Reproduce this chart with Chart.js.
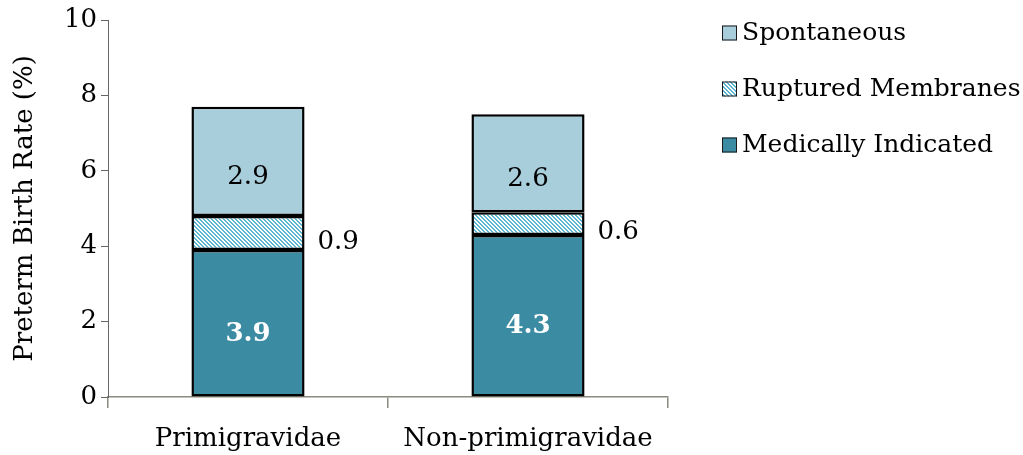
<!DOCTYPE html>
<html>
<head>
<meta charset="utf-8">
<script src="https://cdn.jsdelivr.net/npm/chart.js@4.4.1/dist/chart.umd.min.js"></script>
<style>
  html, body { margin: 0; padding: 0; background: #ffffff; }
  #wrap { width: 1023px; height: 455px; position: relative; }
</style>
</head>
<body>
<div id="wrap"><canvas id="c" width="1023" height="455"></canvas></div>
<script>
// Preterm birth rate (%) by cause, stacked per group
const categories = ['Primigravidae', 'Non-primigravidae'];
const medicallyIndicated = [3.9, 4.3];
const rupturedMembranes = [0.9, 0.6];
const spontaneous = [2.9, 2.6];
const yTicks = [0, 2, 4, 6, 8, 10];

const FONT = 'DejaVu Serif';
const TEAL = '#3B8BA3';
const LIGHT = '#A8CEDC';
const STRIPE = '#5DB6CF';

// diagonal hatch fill for the ruptured-membranes segment
function makeHatch() {
  const t = document.createElement('canvas');
  t.width = 4; t.height = 4;
  const g = t.getContext('2d');
  g.fillStyle = '#ffffff';
  g.fillRect(0, 0, 4, 4);
  g.fillStyle = STRIPE;
  for (let y = 0; y < 4; y++) {
    for (let x = 0; x < 4; x++) {
      const d = ((x - y) % 4 + 4) % 4;
      if (d === 0 || d === 1) g.fillRect(x, y, 1, 1);
    }
  }
  return g.createPattern(t, 'repeat');
}
const hatch = makeHatch();

// value labels on the segments
const segmentLabels = {
  id: 'segmentLabels',
  afterDatasetsDraw(chart) {
    const ctx = chart.ctx;
    ctx.save();
    chart.data.datasets.forEach((ds, di) => {
      const meta = chart.getDatasetMeta(di);
      meta.data.forEach((bar, i) => {
        const v = ds.data[i];
        const txt = v.toFixed(1);
        const top = Math.min(bar.y, bar.base), bot = Math.max(bar.y, bar.base);
        const cy = (top + bot) / 2;
        ctx.textBaseline = 'middle';
        if (ds.labelMode === 'outside') {
          ctx.font = '26px "' + FONT + '"';
          ctx.fillStyle = '#000000';
          ctx.textAlign = 'left';
          ctx.fillText(txt, bar.x + bar.width / 2 + 13, cy + 9);
        } else if (ds.labelMode === 'bold') {
          ctx.font = 'bold 26px "' + FONT + '"';
          ctx.fillStyle = '#ffffff';
          ctx.textAlign = 'center';
          ctx.fillText(txt, bar.x, cy + 11);
        } else {
          ctx.font = '26px "' + FONT + '"';
          ctx.fillStyle = '#000000';
          ctx.textAlign = 'center';
          ctx.fillText(txt, bar.x, cy + 16);
        }
      });
    });
    ctx.restore();
  }
};

// legend on the right, listed top-down in reverse stacking order
const sideLegend = {
  id: 'sideLegend',
  afterDraw(chart) {
    const ctx = chart.ctx;
    ctx.save();
    const items = chart.data.datasets.slice().reverse();
    items.forEach((ds, k) => {
      const cy = 33 + k * 56;
      ctx.fillStyle = ds.backgroundColor;
      ctx.fillRect(722, cy - 7.5, 15, 15);
      ctx.lineWidth = 1;
      ctx.strokeStyle = '#1a1a1a';
      ctx.strokeRect(722.5, cy - 7, 14, 14);
      ctx.font = '25px "' + FONT + '"';
      ctx.fillStyle = '#000000';
      ctx.textAlign = 'left';
      ctx.textBaseline = 'middle';
      ctx.fillText(ds.label, 742, cy);
    });
    ctx.restore();
  }
};

const barCommon = {
  borderColor: '#000000',
  borderWidth: 2.5,
  borderSkipped: false,
  barPercentage: 0.404,
  categoryPercentage: 1.0
};

new Chart(document.getElementById('c'), {
  type: 'bar',
  data: {
    labels: categories,
    datasets: [
      Object.assign({ label: 'Medically Indicated', data: medicallyIndicated, backgroundColor: TEAL, labelMode: 'bold' }, barCommon),
      Object.assign({ label: 'Ruptured Membranes', data: rupturedMembranes, backgroundColor: hatch, labelMode: 'outside' }, barCommon),
      Object.assign({ label: 'Spontaneous', data: spontaneous, backgroundColor: LIGHT, labelMode: 'inside' }, barCommon)
    ]
  },
  options: {
    responsive: false,
    animation: false,
    devicePixelRatio: 1,
    layout: { padding: { left: 0, top: 20, right: 355, bottom: 0 } },
    plugins: {
      legend: { display: false },
      tooltip: { enabled: false }
    },
    scales: {
      x: {
        stacked: true,
        offset: true,
        grid: { display: true, drawOnChartArea: false, drawTicks: true, tickLength: 11, color: '#8a8a7e', lineWidth: 1.5, offset: true },
        border: { display: true, color: '#8a8a7e', width: 1.5 },
        ticks: { color: '#000000', font: { family: FONT, size: 26 }, padding: 16 },
        afterFit(s) { s.height = 58; }
      },
      y: {
        stacked: true,
        min: 0,
        max: 10,
        afterBuildTicks(s) { s.ticks = yTicks.map(v => ({ value: v })); },
        grid: { display: true, drawOnChartArea: false, drawTicks: true, tickLength: 7, color: '#666666', lineWidth: 1 },
        border: { display: true, color: '#666666', width: 1 },
        ticks: { color: '#000000', font: { family: FONT, size: 26 }, padding: 4 },
        title: { display: true, text: 'Preterm Birth Rate (%)', color: '#000000', font: { family: FONT, size: 26 }, padding: { top: 10, bottom: 4 } },
        afterFit(s) { s.width = 108; }
      }
    }
  },
  plugins: [segmentLabels, sideLegend]
});
</script>
</body>
</html>
